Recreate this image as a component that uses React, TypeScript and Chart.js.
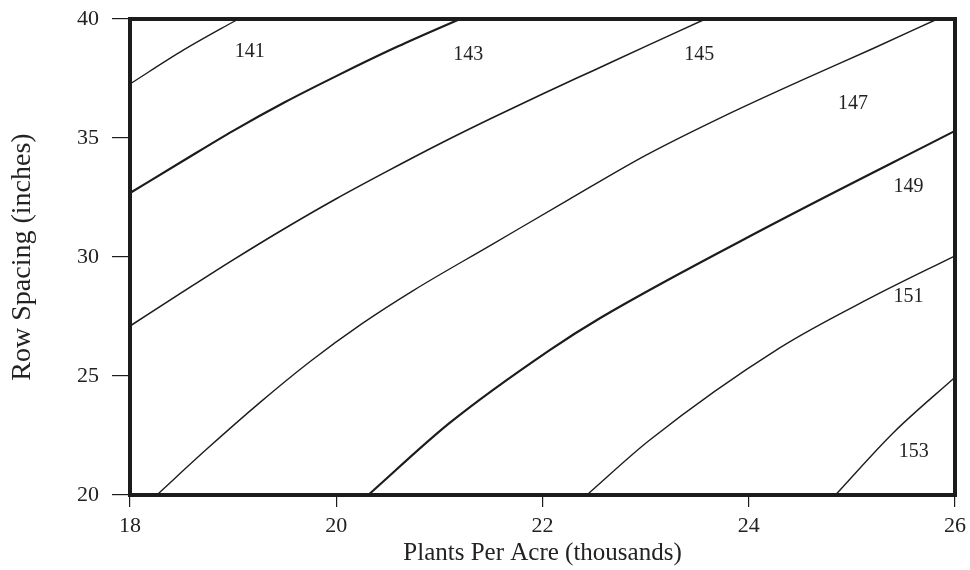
import React, { useEffect, useRef } from "react";
import { Chart, registerables } from "chart.js";

Chart.register(...registerables);

// Axis extents and tick labels
const xRange = [18, 26];
const yRange = [20, 40];
const xTickValues = [18, 20, 22, 24, 26];
const yTickValues = [20, 25, 30, 35, 40];
const xTitle = "Plants Per Acre (thousands)";
const yTitle = "Row Spacing (inches)";

// Contour lines (plants per acre in thousands, row spacing in inches)
const c1X = [18.0, 18.52, 19.05];
const c1Y = [37.27, 38.7, 40.0];

const c2X = [18.0, 18.5, 19.0, 19.5, 20.0, 20.6, 21.2];
const c2Y = [32.69, 34.0, 35.3, 36.5, 37.6, 38.85, 40.0];

const c3X = [18.0, 18.5, 19.0, 19.5, 20.0, 20.5, 21.0, 21.5, 22.0, 22.5, 23.0, 23.58];
const c3Y = [27.1, 28.5, 29.88, 31.2, 32.45, 33.62, 34.75, 35.82, 36.85, 37.85, 38.85, 40.0];

const c4X = [18.26, 18.75, 19.25, 19.75, 20.25, 20.75, 21.5, 22.25, 23.0, 23.75, 24.5, 25.2, 25.83];
const c4Y = [20.0, 21.95, 23.85, 25.62, 27.2, 28.6, 30.5, 32.4, 34.27, 35.9, 37.4, 38.75, 40.0];

const c5X = [20.31, 21.1, 22.07, 22.56, 24.18, 26.0];
const c5Y = [20.0, 23.03, 26.09, 27.44, 31.26, 35.3];

const c6X = [22.43, 23.04, 24.3, 25.18, 26.0];
const c6Y = [20.0, 22.31, 26.18, 28.28, 30.05];

const c7X = [24.84, 25.4, 26.0];
const c7Y = [20.0, 22.61, 24.95];

// Region labels
const labelText = ["141", "143", "145", "147", "149", "151", "153"];
const labelX = [19.16, 21.28, 23.52, 25.01, 25.55, 25.55, 25.6];
const labelY = [38.61, 38.49, 38.49, 36.43, 32.94, 28.32, 21.81];

const contourXs = [c1X, c2X, c3X, c4X, c5X, c6X, c7X];
const contourYs = [c1Y, c2Y, c3Y, c4Y, c5Y, c6Y, c7Y];
const contourWidths = [1.4, 2.2, 1.6, 1.4, 2.2, 1.4, 1.4];

const FONT = "'Liberation Serif', 'Times New Roman', Times, serif";
const INK = "#1c1c1c";

const framePlugin = {
  id: "frameAndLabels",
  afterDatasetsDraw(chart: any) {
    const { ctx, chartArea, scales } = chart;
    ctx.save();
    ctx.strokeStyle = INK;
    ctx.lineWidth = 4;
    ctx.strokeRect(
      chartArea.left,
      chartArea.top,
      chartArea.right - chartArea.left,
      chartArea.bottom - chartArea.top
    );
    ctx.fillStyle = "#222";
    ctx.font = `20px ${FONT}`;
    ctx.textAlign = "center";
    ctx.textBaseline = "middle";
    labelText.forEach((t, i) => {
      const px = scales.x.getPixelForValue(labelX[i]);
      const py = scales.y.getPixelForValue(labelY[i]);
      ctx.fillText(t, px, py);
    });
    ctx.restore();
  },
};

export default function App() {
  const ref = useRef<HTMLCanvasElement | null>(null);

  useEffect(() => {
    document.body.style.margin = "0";
    document.body.style.background = "#ffffff";
    if (!ref.current) return;
    const datasets = contourXs.map((xs, i) => ({
      label: `contour ${i + 1}`,
      data: xs.map((x, j) => ({ x, y: contourYs[i][j] })),
      showLine: true,
      borderColor: INK,
      borderWidth: contourWidths[i],
      pointRadius: 0,
      pointHoverRadius: 0,
      fill: false,
      cubicInterpolationMode: "monotone" as const,
      clip: 2,
    }));

    const chart = new Chart(ref.current, {
      type: "scatter",
      data: { datasets },
      options: {
        animation: false,
        responsive: false,
        maintainAspectRatio: false,
        layout: { padding: { top: 19, right: 15, left: 0, bottom: 0 } },
        plugins: {
          legend: { display: false },
          tooltip: { enabled: false },
          title: { display: false },
        },
        scales: {
          x: {
            type: "linear",
            min: xRange[0],
            max: xRange[1],
            afterBuildTicks: (scale: any) => {
              scale.ticks = xTickValues.map((v) => ({ value: v }));
            },
            afterFit: (scale: any) => {
              scale.height = 75;
              scale.paddingLeft = 0;
              scale.paddingRight = 0;
            },
            grid: {
              drawOnChartArea: false,
              drawTicks: true,
              tickLength: 12,
              color: INK,
              lineWidth: 1.2,
            },
            border: { display: false },
            ticks: {
              padding: 6,
              color: "#222",
              font: { family: FONT, size: 22 },
              maxRotation: 0,
              autoSkip: false,
              callback: (v: any) => String(v),
            },
            title: {
              display: true,
              text: xTitle,
              color: "#222",
              font: { family: FONT, size: 25 },
              padding: { top: 0, bottom: 2 },
            },
          },
          y: {
            type: "linear",
            min: yRange[0],
            max: yRange[1],
            afterBuildTicks: (scale: any) => {
              scale.ticks = yTickValues.map((v) => ({ value: v }));
            },
            afterFit: (scale: any) => {
              scale.width = 130;
              scale.paddingTop = 0;
              scale.paddingBottom = 0;
            },
            grid: {
              drawOnChartArea: false,
              drawTicks: true,
              tickLength: 18,
              color: INK,
              lineWidth: 1.2,
            },
            border: { display: false },
            ticks: {
              padding: 13,
              color: "#222",
              font: { family: FONT, size: 22 },
              autoSkip: false,
              callback: (v: any) => String(v),
            },
            title: {
              display: true,
              text: yTitle,
              color: "#222",
              font: { family: FONT, size: 28 },
              padding: { top: 6, bottom: 0 },
            },
          },
        },
      },
      plugins: [framePlugin],
    });
    return () => chart.destroy();
  }, []);

  return (
    <div style={{ width: 970, height: 570 }}>
      <canvas ref={ref} width={970} height={570} style={{ display: "block" }} />
    </div>
  );
}
